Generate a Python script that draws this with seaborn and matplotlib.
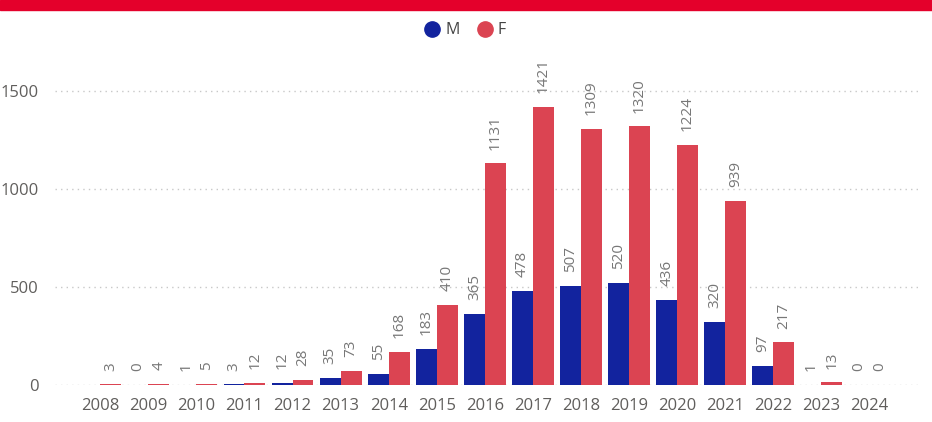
import numpy as np
import pandas as pd
import matplotlib
matplotlib.use("Agg")
import matplotlib.pyplot as plt
from matplotlib.lines import Line2D
from matplotlib.patches import Rectangle
import seaborn as sns

# --- data ---
years = [str(y) for y in range(2008, 2025)]
male = [np.nan, 0, 1, 3, 12, 35, 55, 183, 365, 478, 507, 520, 436, 320, 97, 1, 0]
female = [3, 4, 5, 12, 28, 73, 168, 410, 1131, 1421, 1309, 1320, 1224, 939, 217, 13, 0]
series = ["M", "F"]
y_ticks = [0, 500, 1000, 1500]

COLORS = {"M": "#12239E", "F": "#DB4452"}
TEXT = "#605E5C"
LABEL = "#777777"

df = pd.DataFrame({
    "year": years * 2,
    "sex": ["M"] * len(years) + ["F"] * len(years),
    "count": male + female,
})

sns.set_theme(style="white")
plt.rcParams["font.family"] = ["Open Sans", "DejaVu Sans"]

fig = plt.figure(figsize=(9.32, 4.22), dpi=100)
fig.patch.set_facecolor("white")
ax = fig.add_axes([55 / 932, 37 / 422, 865 / 932, 333 / 422])

sns.barplot(data=df, x="year", y="count", hue="sex", hue_order=series,
            order=years, palette=COLORS, width=0.87, dodge=True,
            saturation=1, ax=ax, legend=False, errorbar=None,
            linewidth=0)

for cont in ax.containers:
    ax.bar_label(cont, fmt="%d", rotation=90, padding=10,
                 fontsize=11, color=LABEL)

ax.set_xlim(-0.94, 17.05)
ax.set_ylim(0, 1700)
ax.set_yticks(y_ticks)
ax.set_xlabel("")
ax.set_ylabel("")
ax.tick_params(axis="both", length=0, labelsize=12, colors=TEXT)
ax.tick_params(axis="x", pad=9)
ax.tick_params(axis="y", pad=12)
ax.grid(True, axis="y", linestyle=(0, (1, 3)), color="#C8C8C8", linewidth=1)
ax.set_axisbelow(True)
for spine in ax.spines.values():
    spine.set_visible(False)

# legend with round markers
handles = [Line2D([], [], marker="o", linestyle="", markersize=11,
                  color=COLORS[s], label=s) for s in series]
fig.legend(handles=handles, loc="center", bbox_to_anchor=(0.495, 0.928),
           ncol=2, frameon=False, fontsize=11.5, handletextpad=-0.2,
           columnspacing=0.6, labelcolor="#444444")

# red header band
fig.patches.append(Rectangle((0, 1 - 10 / 422), 1, 10 / 422,
                             transform=fig.transFigure, color="#E4002B",
                             zorder=0))

fig.savefig("out.png", dpi=100, facecolor="white")
